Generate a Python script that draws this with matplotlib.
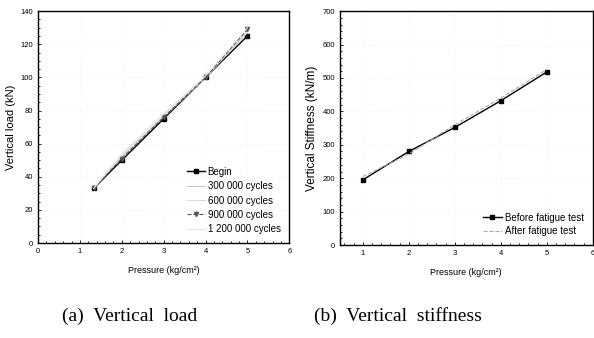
import matplotlib
matplotlib.use("Agg")
import matplotlib.pyplot as plt

plt.rcParams['font.family'] = ['Liberation Sans', 'DejaVu Sans']

# (a) vertical load
load_x = [1.33, 2, 3, 4, 5]
load_begin = [33, 50, 75, 100, 125]
load_300k = [33, 52, 76, 100, 127]
load_600k = [33, 53, 77, 100, 128]
load_900k = [33, 51, 76, 100, 129]
load_1200k = [33, 54, 78, 101, 130]

# (b) vertical stiffness
stiff_x = [1, 2, 3, 4, 5]
stiff_before = [195, 280, 352, 432, 518]
stiff_after = [205, 272, 360, 440, 525]

fig = plt.figure(figsize=(5.94, 3.38), dpi=100)
ax1 = fig.add_axes([0.064, 0.281, 0.423, 0.686])
ax2 = fig.add_axes([0.572, 0.275, 0.426, 0.692])

ax1.plot(load_x, load_begin, '-s', color='black', lw=1.0, ms=3, label='Begin')
ax1.plot(load_x, load_300k, '-', color='#c8c8c8', lw=0.8, label='300 000 cycles')
ax1.plot(load_x, load_600k, '-', color='#dddddd', lw=0.8, label='600 000 cycles')
ax1.plot(load_x, load_900k, '--v', color='#555555', lw=0.8, ms=3, label='900 000 cycles')
ax1.plot(load_x, load_1200k, '-', color='#e6e6e6', lw=0.8, label='1 200 000 cycles')
ax1.set_xlim(0, 6)
ax1.set_ylim(0, 140)
ax1.set_xticks(range(0, 7))
ax1.set_yticks(range(0, 141, 20))
ax1.set_xlabel('Pressure (kg/cm²)', fontsize=6.5, labelpad=8)
ax1.set_ylabel('Vertical load (kN)', fontsize=8, labelpad=3)
ax1.legend(loc='lower right', fontsize=7, frameon=False, handlelength=1.8,
           handletextpad=0.3, labelspacing=0.45, borderaxespad=0.5)

ax2.plot(stiff_x, stiff_before, '-s', color='black', lw=1.0, ms=3, label='Before fatigue test')
ax2.plot(stiff_x, stiff_after, '--', color='#aaaaaa', lw=0.8, label='After fatigue test')
ax2.set_xlim(0.5, 6)
ax2.set_ylim(0, 700)
ax2.set_xticks(range(1, 7))
ax2.set_yticks(range(0, 701, 100))
ax2.set_xlabel('Pressure (kg/cm²)', fontsize=6.5, labelpad=8)
ax2.set_ylabel('Vertical Stiffness (kN/m)', fontsize=8.5, labelpad=3)
ax2.legend(loc='lower right', fontsize=7, frameon=False, handlelength=2.0,
           handletextpad=0.3, labelspacing=0.35, borderaxespad=0.5)

for ax in (ax1, ax2):
    ax.minorticks_on()
    ax.tick_params(which='both', labelsize=5.5, direction='in', width=0.6)
    ax.tick_params(which='major', length=2.5)
    ax.tick_params(which='minor', length=1.2)
    for s in ax.spines.values():
        s.set_linewidth(1.0)
    ax.grid(True, which='major', color='#cccccc', lw=0.4, linestyle=(0, (1, 6)))

fig.text(0.219, 0.05, '(a)  Vertical  load', fontsize=14, ha='center',
         family=['Liberation Serif', 'DejaVu Serif'])
fig.text(0.67, 0.05, '(b)  Vertical  stiffness', fontsize=14, ha='center',
         family=['Liberation Serif', 'DejaVu Serif'])

fig.savefig('out.png', dpi=100)
